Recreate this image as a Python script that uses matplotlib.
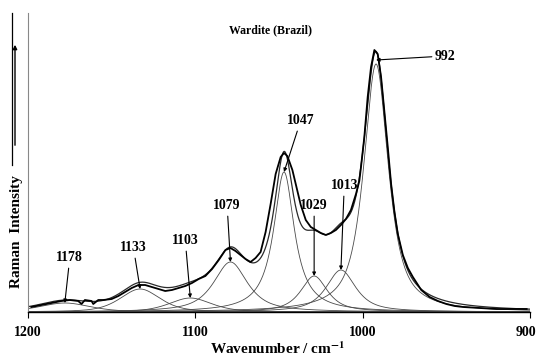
import numpy as np
import matplotlib
matplotlib.use('Agg')
import matplotlib.pyplot as plt
import matplotlib.transforms as mtransforms
from matplotlib.lines import Line2D
from matplotlib.patches import FancyArrowPatch

plt.rcParams['font.family'] = ['Liberation Serif', 'DejaVu Serif']
plt.rcParams['mathtext.fontset'] = 'stix'

# measured spectrum (wavenumber, intensity in arbitrary units)
wn_meas = [1198, 1192, 1186, 1180, 1175, 1170, 1168, 1166, 1162, 1161, 1158, 1155,
           1150, 1146, 1142, 1138, 1134, 1130, 1126, 1122, 1118, 1114, 1110, 1106,
           1102, 1098, 1094, 1090, 1086, 1082, 1079, 1076, 1073, 1070, 1067, 1064,
           1061, 1058, 1055, 1052, 1049, 1047, 1045, 1042, 1040, 1037, 1034, 1031,
           1028, 1025, 1022, 1019, 1016, 1013, 1010, 1007, 1004, 1002, 1001, 999,
           997, 995, 993, 991, 989, 987, 985, 983, 981, 979, 976, 973, 970, 965,
           960, 955, 950, 945, 940, 930, 920, 910, 902]
int_meas = [5, 7, 9, 11, 12, 11, 8, 12, 11, 8, 12, 12,
            13, 16, 20, 24, 27, 27, 25, 23, 21, 22, 24, 26,
            29, 33, 36, 43, 52, 62, 64, 61, 57, 53, 50, 54,
            60, 80, 108, 138, 155, 159, 156, 142, 128, 107, 92, 85,
            82, 79, 77, 79, 82, 87, 93, 102, 118, 131, 145, 175,
            215, 245, 262, 258, 235, 200, 165, 128, 100, 78, 57, 44, 35, 22,
            15, 11, 8, 6, 5, 4, 3, 3, 3]

# fitted bands: centre, height, full width at half maximum, Lorentzian fraction
band_pos = [1178, 1133, 1103, 1079, 1047, 1029, 1013, 992]
band_height = [9, 23, 14, 50, 140, 36, 42, 248]
band_fwhm = [36, 28, 30, 24, 15, 19, 21, 17.5]
band_lfrac = [0.5, 0.5, 0.5, 0.8, 1.0, 0.8, 0.8, 0.8]

# label positions (wavenumber, intensity) for each band
label_pos = [(1175, 48), (1137, 58), (1106, 65), (1081, 100),
             (1037, 185), (1029, 100), (1011, 120), (957, 256)]

fig = plt.figure(figsize=(5.38, 3.56), dpi=100)
ax = fig.add_axes([28/538, 1-312/356, 502/538, 299/356])

x = np.linspace(1200, 900, 1500)
total = np.zeros_like(x)
for c, h, w, eta in zip(band_pos, band_height, band_fwhm, band_lfrac):
    d = (x - c) / (w / 2)
    y = h * (eta / (1 + d**2) + (1 - eta) * np.exp(-np.log(2) * d**2))
    total += y
    ax.plot(x, y, color='#4a4a4a', lw=0.6)
ax.plot(x, total, color='#2a2a2a', lw=0.9)
ax.plot(wn_meas, int_meas, color='black', lw=1.3)

for c, h, (lx, ly) in zip(band_pos, band_height, label_pos):
    if c == 992:
        ax.annotate(str(c), xy=(c, 252), xytext=(lx, ly), ha='left', va='center',
                    fontsize=10, fontweight='bold',
                    arrowprops=dict(arrowstyle='-|>', lw=0.8, color='black',
                                    mutation_scale=5, shrinkA=0, shrinkB=0))
    else:
        ax.annotate(str(c), xy=(c, h), xytext=(lx, ly), ha='center', va='bottom',
                    fontsize=10, fontweight='bold',
                    arrowprops=dict(arrowstyle='-|>', lw=0.8, color='black',
                                    mutation_scale=5, shrinkA=1, shrinkB=0))

ax.set_xlim(1200, 900)
ax.set_ylim(0, 299)
ax.set_xticks([1200, 1100, 1000, 900])
ax.set_yticks([])
ax.tick_params(axis='x', labelsize=10, length=4, width=0.8, pad=6)
labels = ax.get_xticklabels()
for lab in labels:
    lab.set_fontweight('bold')
# keep the last label inside the picture
labels[-1].set_horizontalalignment('right')
labels[-1].set_transform(labels[-1].get_transform() +
                         mtransforms.ScaledTranslation(6/100, 0, fig.dpi_scale_trans))
ax.spines['top'].set_visible(False)
ax.spines['right'].set_visible(False)
ax.spines['left'].set_color('#888888')
ax.spines['left'].set_linewidth(0.8)
ax.spines['bottom'].set_linewidth(1.0)

fig.text(0.502, 1-30/356, 'Wardite (Brazil)', ha='center', va='center',
         fontsize=8.5, fontweight='bold')
fig.text(278/538, 1-349/356, r'Wavenumber / cm$^{\mathbf{-1}}$', ha='center',
         va='center', fontsize=11, fontweight='bold')
fig.text(17/538, 1-232/356, 'Raman  Intensity', ha='center', va='center',
         rotation=90, fontsize=11, fontweight='bold')

# arrow beside the y label and the frame line at the left edge
fig.add_artist(FancyArrowPatch((15/538, 1-148/356), (15/538, 1-42/356),
                               transform=fig.transFigure, arrowstyle='-|>',
                               mutation_scale=6, lw=1.0, color='black'))
fig.add_artist(Line2D([12/538, 12/538], [1-13/356, 1-165/356],
                      transform=fig.transFigure, color='black', lw=0.9))

fig.savefig('out.png', dpi=100)
